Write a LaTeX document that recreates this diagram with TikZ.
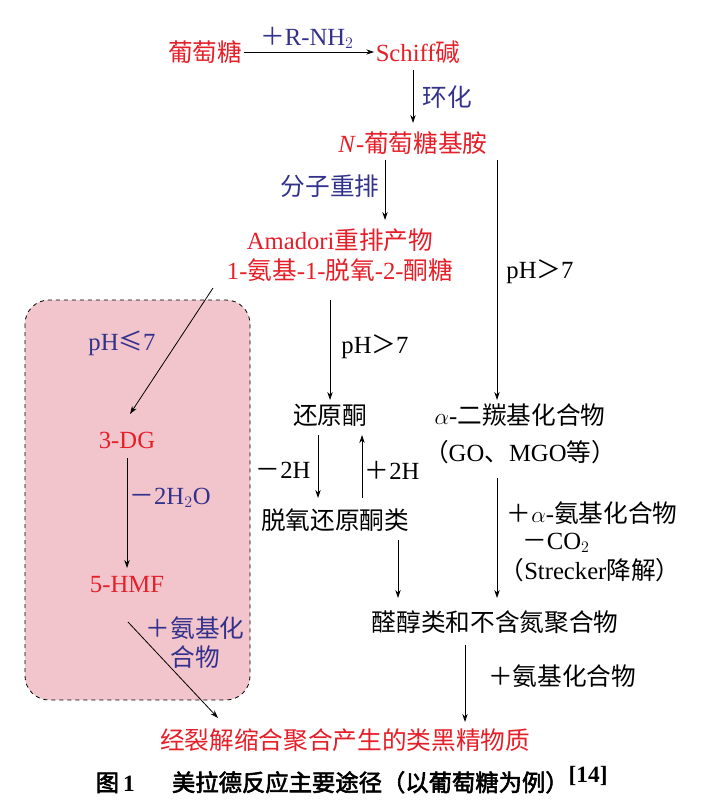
\documentclass[tikz,border=0pt]{standalone}
\usepackage{fontspec}
\setmainfont{Liberation Serif}
\newfontfamily\cjk{Noto Sans CJK SC}
\newfontfamily\cjkb[FakeBold=2.5]{Noto Sans CJK SC}
\newcommand{\zh}[1]{{\cjk #1}}
\usetikzlibrary{arrows.meta}
\definecolor{rd}{RGB}{230,30,40}
\definecolor{bl}{RGB}{50,50,140}
\definecolor{pk}{RGB}{242,196,204}
\begin{document}
\begin{tikzpicture}[x=0.75pt,y=-0.75pt,
  every node/.style={font=\fontsize{18.5}{21}\selectfont,inner sep=1pt},
  r/.style={text=rd}, b/.style={text=bl}, k/.style={text=black},
  ar/.style={-{Stealth[length=6pt,width=4pt]},line width=0.6pt}]
\useasboundingbox (0,0) rectangle (700,806);
\draw[dashed,fill=pk,rounded corners=18pt,line width=0.6pt] (25,300) rectangle (250,700);
\node[r] (glu) at (205,52) {\zh{葡萄糖}};
\node[r] (sch) at (418,52) {Schiff\zh{碱}};
\node[b] at (307,38) {\zh{＋}R-NH$_2$};
\draw[ar] (glu.east) -- (sch.west);
\node[r] (ngl) at (413,143) {\textit{N}-\zh{葡萄糖基胺}};
\draw[ar] (413,70) -- (413,123);
\node[b] at (447,97) {\zh{环化}};
\node[r] (ama) at (340,240) {Amadori\zh{重排产物}};
\node[r] (ket) at (340,270) {1-\zh{氨基}-1-\zh{脱氧}-2-\zh{酮糖}};
\coordinate (n1) at (385,160); \coordinate (n2) at (385,220);
\draw[ar] (n1) -- (n2);
\node[b] at (330,186) {\zh{分子重排}};
\node[k] (red) at (330,415) {\zh{还原酮}};
\node[k] (dic) at (520,415) {$\alpha$-\zh{二羰基化合物}};
\node[k] (go) at (520,452) {\zh{（}GO\zh{、}MGO\zh{等）}};
\coordinate (p1) at (497,160);
\draw[ar] (p1) -- (497,400);
\node[k] at (540,272) {pH\zh{＞}7};
\coordinate (k1) at (330,300);
\draw[ar] (k1) -- (330,400);
\node[k] at (375,347) {pH\zh{＞}7};
\node[r] (dg) at (127,440) {3-DG};
\coordinate (k2) at (213,288);
\draw[ar] (k2) -- (130,414);
\node[b] at (122,343) {pH\zh{≤}7};
\node[r] (hmf) at (127,585) {5-HMF};
\draw[ar] (127,458) -- (127,568);
\node[b] at (170,498) {\zh{－}2H$_2$O};
\node[b] at (195,628) {\zh{＋氨基化}};
\node[b] at (195,657) {\zh{合物}};
\node[k] (deo) at (335,520) {\zh{脱氧还原酮类}};
\draw[ar] (318,435) -- (318,498);
\draw[ar] (362,498) -- (362,435);
\node[k] at (283,470) {\zh{－}2H};
\node[k] at (392,470) {\zh{＋}2H};
\node[k] (ald) at (495,622) {\zh{醛醇类和不含氮聚合物}};
\draw[ar] (497,478) -- (497,598);
\draw[ar] (398,540) -- (398,598);
\node[k] at (592,513) {\zh{＋}$\alpha$-\zh{氨基化合物}};
\node[k] at (556,543) {\zh{－}CO$_2$};
\node[k] at (590,570) {\zh{（}Strecker\zh{降解）}};
\node[r] (mel) at (345,740) {\zh{经裂解缩合聚合产生的类黑精物质}};
\draw[ar] (465,645) -- (465,722);
\node[k] at (562,676) {\zh{＋氨基化合物}};
\draw[ar] (128,622) -- (218,718);
\node[k,font=\fontsize{17.5}{20}\selectfont] at (352,780) {{\cjkb 图}\,\textbf{1}\hspace{1.6em}{\cjkb 美拉德反应主要途径（以葡萄糖为例）}$^{\textbf{[14]}}$};
\end{tikzpicture}
\end{document}
